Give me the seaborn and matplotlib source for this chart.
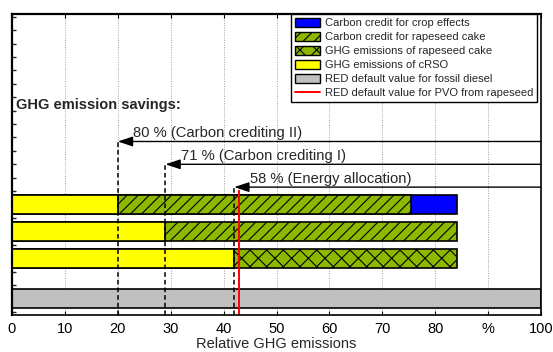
import matplotlib
matplotlib.use("Agg")
import matplotlib.pyplot as plt
from matplotlib.patches import Patch
from matplotlib.lines import Line2D
from matplotlib.ticker import MultipleLocator
import numpy as np
import pandas as pd
import seaborn as sns

# Scenarios (top to bottom) and their GHG savings versus fossil diesel, %
scenarios = ["Carbon crediting II", "Carbon crediting I", "Energy allocation"]
savings = [80, 71, 58]
# Bar segments, % of the fossil diesel reference
crso = [100 - s for s in savings]          # GHG emissions of cRSO
cake = [55.4, 55.1, 42.1]                  # rapeseed cake share of each bar
cake_kind = ["credit", "credit", "emissions"]
crop = [8.7, 0.0, 0.0]                     # carbon credit for crop effects
fossil_diesel = 100
pvo_default = 43

x_ticks = [0, 10, 20, 30, 40, 50, 60, 70, 80, 90, 100]
x_ticklabels = ["0", "10", "20", "30", "40", "50", "60", "70", "80", "%", "100"]

# Layout: vertical slots of the bars and of the savings arrows
bar_pos = [7, 5, 3]
fossil_pos = 0
arrow_pos = [11.7, 10.0, 8.3]
y_limits = (-1.23, 21.2)

lab_crop = "Carbon credit for crop effects"
lab_credit = "Carbon credit for rapeseed cake"
lab_cake = "GHG emissions of rapeseed cake"
lab_crso = "GHG emissions of cRSO"
lab_fossil = "RED default value for fossil diesel"
lab_pvo = "RED default value for PVO from rapeseed"

colors = {
    lab_crop: "#0000FF",
    lab_credit: "#8DB800",
    lab_cake: "#8DB800",
    lab_crso: "#FFFF00",
    lab_fossil: "#C0C0C0",
}
hatches = {lab_crop: "", lab_credit: "///", lab_cake: "xx", lab_crso: "", lab_fossil: ""}

# Stacked bars are drawn back to front: each row holds the right end of a segment
rows = []
for i in range(len(scenarios)):
    end_cake = crso[i] + cake[i]
    if crop[i] > 0:
        rows.append((bar_pos[i], end_cake + crop[i], lab_crop))
    rows.append((bar_pos[i], end_cake, lab_credit if cake_kind[i] == "credit" else lab_cake))
    rows.append((bar_pos[i], crso[i], lab_crso))
rows.append((fossil_pos, fossil_diesel, lab_fossil))
df = pd.DataFrame(rows, columns=["pos", "end", "segment"])
draw_order = [lab_crop, lab_fossil, lab_credit, lab_cake, lab_crso]

sns.set_style("ticks")
plt.rcParams["font.family"] = ["Liberation Sans", "DejaVu Sans"]
plt.rcParams["hatch.linewidth"] = 0.8
plt.rcParams["hatch.color"] = "black"

fig = plt.figure(figsize=(5.53, 3.52), dpi=100)
ax = fig.add_axes([12 / 553, 1 - 315 / 352, 529 / 553, 301 / 352])

sns.barplot(data=df, x="end", y="pos", hue="segment", hue_order=draw_order,
            palette=colors, orient="h", native_scale=True, dodge=False,
            width=0.71, errorbar=None, edgecolor="black", linewidth=1.2,
            saturation=1, legend=False, ax=ax, zorder=2)
for cont, level in zip(ax.containers, draw_order):
    for bar in cont:
        bar.set_hatch(hatches[level])

ax.set_xlim(0, 100)
ax.set_ylim(*y_limits)

# Savings markers: dashed drop line plus arrow from the right edge
for i, label in enumerate(scenarios):
    x = crso[i]
    ax.vlines(x, y_limits[0], arrow_pos[i], colors="black", linestyles=(0, (3, 2)),
              linewidth=1.1, zorder=4)
    ax.annotate("", xy=(x, arrow_pos[i]), xytext=(100, arrow_pos[i]),
                arrowprops=dict(arrowstyle="-|>,head_length=0.9,head_width=0.3",
                                color="black", lw=1.0, shrinkA=0, shrinkB=0,
                                mutation_scale=10), zorder=5)
    ax.text(x + 2.9, arrow_pos[i] + 0.12, f"{savings[i]} % ({label})",
            fontsize=10.6, va="bottom", ha="left", zorder=5)

ax.text(0.75, 14.4, "GHG emission savings:", fontsize=10.5, fontweight="bold",
        va="center", ha="left")

ax.vlines(pvo_default, y_limits[0], 8.05, colors="#FF0000", linewidth=1.4, zorder=6)

# Axes styling
ax.set_xticks(x_ticks)
ax.set_xticklabels(x_ticklabels, fontsize=10.5)
ax.yaxis.set_major_locator(MultipleLocator(1))
ax.set_yticklabels([])
ax.tick_params(axis="x", direction="in", length=3, width=0.8, top=True, pad=5,
               colors="black")
ax.tick_params(axis="y", direction="in", length=3, width=1.0, left=True, right=False)
ax.set_ylabel("")
ax.set_xlabel("Relative GHG emissions", fontsize=10.5, labelpad=1)
ax.xaxis.grid(True, linestyle=(0, (1, 1.5)), color="#A0A0A0", linewidth=0.7)
ax.yaxis.grid(False)
ax.set_axisbelow(True)
for side in ["top", "left"]:
    ax.spines[side].set_linewidth(1.6)
for side in ["bottom", "right"]:
    ax.spines[side].set_linewidth(1.2)
for s in ax.spines.values():
    s.set_color("black")
    s.set_zorder(10)

handles = [Patch(facecolor=colors[k], edgecolor="black", hatch=hatches[k], linewidth=1.0)
           for k in [lab_crop, lab_credit, lab_cake, lab_crso, lab_fossil]]
handles.append(Line2D([], [], color="#FF0000", linewidth=1.4))
labels = [lab_crop, lab_credit, lab_cake, lab_crso, lab_fossil, lab_pvo]
leg = ax.legend(handles, labels, loc="upper right", bbox_to_anchor=(0.9924, 1.0),
                borderaxespad=0, fontsize=8, frameon=True, fancybox=False,
                framealpha=1, edgecolor="black", borderpad=0.35, labelspacing=0.3,
                handlelength=2.25, handleheight=0.95, handletextpad=0.4)
leg.get_frame().set_linewidth(1.0)
leg.set_zorder(12)

fig.savefig("out.png", dpi=100)
